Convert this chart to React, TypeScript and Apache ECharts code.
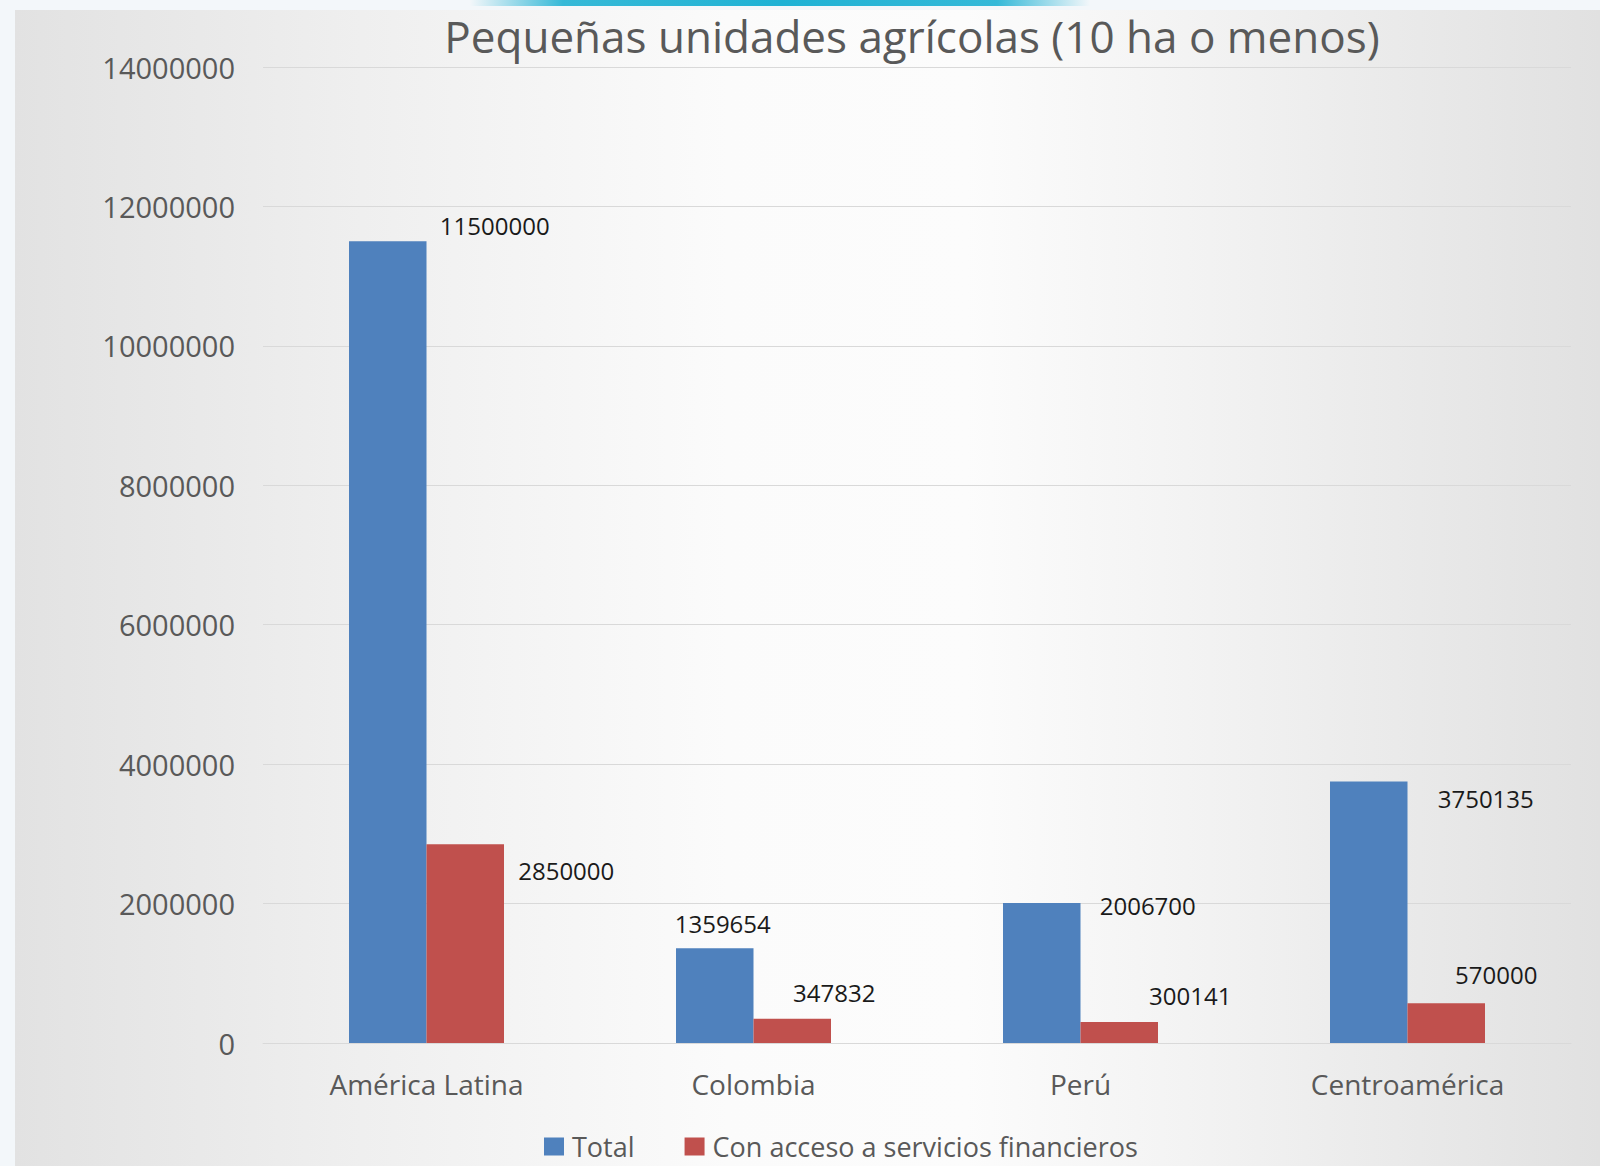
import React, { useEffect, useRef } from "react";
import * as echarts from "echarts";

const titleText = "Pequeñas unidades agrícolas (10 ha o menos)";
const categories = ["América Latina", "Colombia", "Perú", "Centroamérica"];
const seriesNames = ["Total", "Con acceso a servicios financieros"];
const totalValues = [11500000, 1359654, 2006700, 3750135];
const accessValues = [2850000, 347832, 300141, 570000];
const yMin = 0;
const yMax = 14000000;
const yStep = 2000000;

// label placement offsets (px) relative to each bar's top centre
const totalLabelOffsets = [[107, -16], [8, -25], [106, 2], [117, 17]];
const accessLabelOffsets = [[101, 26], [42, -26], [71, -27], [50, -29]];

const FONT = "Open Sans";
const GREY = "#595959";

export default function App() {
  const ref = useRef<HTMLDivElement>(null);
  useEffect(() => {
    if (!ref.current) return;
    const chart = echarts.init(ref.current, null, { renderer: "svg" });
    const labelBase = {
      show: true,
      position: "top",
      distance: 0,
      verticalAlign: "middle",
      align: "center",
      fontSize: 24,
      fontFamily: FONT,
      color: "#1a1a1a",
    };
    chart.setOption({
      animation: false,
      backgroundColor: "#f3f7fa",
      graphic: [
        {
          type: "rect",
          z: -10,
          silent: true,
          shape: { x: 15, y: 10, width: 1585, height: 1156 },
          style: {
            fill: new echarts.graphic.LinearGradient(0, 0, 1, 0, [
              { offset: 0, color: "#e2e2e2" },
              { offset: 0.2, color: "#eeeeee" },
              { offset: 0.45, color: "#fbfbfb" },
              { offset: 0.6, color: "#fcfcfc" },
              { offset: 0.8, color: "#efefef" },
              { offset: 1, color: "#e1e1e1" },
            ]),
          },
        },
        {
          type: "rect",
          z: -9,
          silent: true,
          shape: { x: 470, y: 0, width: 620, height: 6 },
          style: {
            fill: new echarts.graphic.LinearGradient(0, 0, 1, 0, [
              { offset: 0, color: "rgba(31,178,212,0)" },
              { offset: 0.15, color: "rgba(31,178,212,0.9)" },
              { offset: 0.5, color: "rgba(31,178,212,1)" },
              { offset: 0.85, color: "rgba(31,178,212,0.9)" },
              { offset: 1, color: "rgba(31,178,212,0)" },
            ]),
          },
        },
      ],
      title: {
        text: titleText,
        left: 907,
        textAlign: "center",
        top: 9,
        textStyle: {
          fontFamily: FONT,
          fontSize: 44,
          fontWeight: "normal",
          color: GREY,
        },
      },
      legend: {
        data: seriesNames,
        left: 539,
        top: 1128,
        icon: "rect",
        itemWidth: 20,
        itemHeight: 18,
        itemGap: 50,
        textStyle: {
          fontFamily: FONT,
          fontSize: 27,
          color: GREY,
          padding: [0, 0, 0, 3],
        },
      },
      grid: { left: 263, right: 29, top: 67, bottom: 123, containLabel: false },
      xAxis: {
        type: "category",
        data: categories,
        axisTick: { show: false },
        axisLine: { show: true, lineStyle: { color: "#d9d9d9", width: 1 } },
        axisLabel: {
          fontFamily: FONT,
          fontSize: 28,
          color: GREY,
          margin: 27,
        },
      },
      yAxis: {
        type: "value",
        min: yMin,
        max: yMax,
        interval: yStep,
        axisLine: { show: false },
        axisTick: { show: false },
        splitLine: { lineStyle: { color: "#d9d9d9", width: 1 } },
        axisLabel: {
          fontFamily: FONT,
          fontSize: 29,
          color: GREY,
          margin: 28,
          formatter: (v: number) => String(v),
        },
      },
      series: [
        {
          name: seriesNames[0],
          type: "bar",
          barGap: "0%",
          barCategoryGap: "52.6%",
          itemStyle: { color: "#4f81bd" },
          label: labelBase,
          data: totalValues.map((v, i) => ({
            value: v,
            label: { offset: totalLabelOffsets[i] },
          })),
        },
        {
          name: seriesNames[1],
          type: "bar",
          barGap: "0%",
          barCategoryGap: "52.6%",
          itemStyle: { color: "#c0504d" },
          label: labelBase,
          data: accessValues.map((v, i) => ({
            value: v,
            label: { offset: accessLabelOffsets[i] },
          })),
        },
      ],
    });
    return () => chart.dispose();
  }, []);
  return (
    <div
      ref={ref}
      style={{ position: "absolute", left: 0, top: 0, width: 1600, height: 1166 }}
    />
  );
}
